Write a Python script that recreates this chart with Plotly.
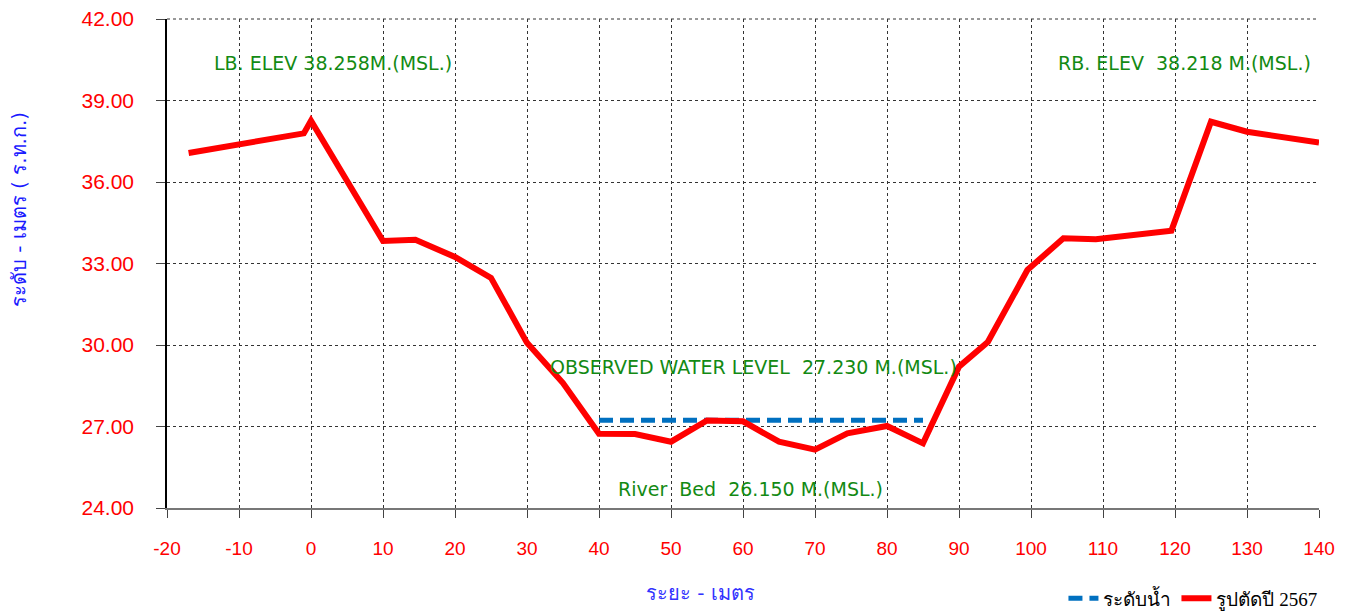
import plotly.graph_objects as go

# Cross-section survey (distance in m, elevation in m MSL)
distance = [-17, -1, 0, 10, 14.5, 20, 25, 30, 35, 40, 45, 50, 55, 60, 65, 70,
            74.5, 80, 85, 90, 94, 99.5, 104.5, 109, 119.5, 125, 130, 140]
elevation = [37.07, 37.79, 38.258, 33.83, 33.87, 33.24, 32.47, 30.08, 28.6, 26.73,
             26.72, 26.44, 27.22, 27.19, 26.44, 26.15, 26.75, 27.02, 26.38, 29.2,
             30.11, 32.76, 33.93, 33.89, 34.21, 38.218, 37.85, 37.45]

water_x = [40, 85]
water_y = [27.23, 27.23]

x_ticks = list(range(-20, 141, 10))
x_tick_text = [str(v) for v in x_ticks]
y_ticks = [24, 27, 30, 33, 36, 39, 42]
y_tick_text = ["%.2f" % v for v in y_ticks]

NB = "\u00a0"
label_lb = "LB. ELEV 38.258M.(MSL.)"
label_rb = "RB. ELEV" + NB + NB + "38.218 M.(MSL.)"
label_wl = "OBSERVED WATER LEVEL" + NB + NB + "27.230 M.(MSL.)"
label_bed = "River" + NB + NB + "Bed" + NB + NB + "26.150 M.(MSL.)"

fig = go.Figure()
fig.add_trace(go.Scatter(
    x=water_x, y=water_y, mode="lines", name="ระดับน้ำ",
    line=dict(color="#0070C0", width=5, dash="14px,7px")))
fig.add_trace(go.Scatter(
    x=distance, y=elevation, mode="lines", name="รูปตัดปี 2567",
    line=dict(color="#FF0000", width=6)))

green = "#138a13"
ann_font = dict(family="DejaVu Sans", size=19, color=green)
fig.add_annotation(x=3.0, y=40.38, text=label_lb, showarrow=False, font=ann_font)
fig.add_annotation(x=121.3, y=40.38, text=label_rb, showarrow=False, font=ann_font)
fig.add_annotation(x=61.5, y=29.2, text=label_wl, showarrow=False, font=ann_font)
fig.add_annotation(x=61.0, y=24.7, text=label_bed, showarrow=False, font=ann_font)

# axis titles
fig.add_annotation(xref="paper", yref="paper", x=-0.1285, y=0.611,
                   xanchor="center", yanchor="middle",
                   text="ระดับ - เมตร ( ร.ท.ก.)", textangle=-90, showarrow=False,
                   font=dict(family="Tahoma, DejaVu Sans", size=20, color="#1a1aff"))
fig.add_annotation(xref="paper", yref="paper", x=0.4627, y=-0.174,
                   xanchor="center", yanchor="middle",
                   text="ระยะ - เมตร", showarrow=False,
                   font=dict(family="Tahoma, DejaVu Sans", size=20, color="#3333ff"))

# top gridline (at the upper edge of the plot) and outer border on the right
fig.add_shape(type="line", xref="paper", yref="paper", x0=0, x1=1, y0=1, y1=1,
              line=dict(color="#333", width=1, dash="dot"))
fig.add_shape(type="line", xref="paper", yref="paper", x0=1.0304, x1=1.0304,
              y0=-0.23, y1=1.06, line=dict(color="#999999", width=2))

fig.update_xaxes(range=[-20, 140], tickvals=x_ticks, ticktext=x_tick_text,
                 ticks="outside", ticklen=8, ticklabelstandoff=14,
                 ticklabeloverflow="allow",
                 tickcolor="#444", showgrid=True, gridcolor="#333", griddash="dot",
                 gridwidth=1, showline=True, linecolor="#777", linewidth=2,
                 tickfont=dict(family="Liberation Sans, Arial", size=19, color="#FF0000"),
                 zeroline=False)
fig.update_yaxes(range=[24, 42], tickvals=y_ticks, ticktext=y_tick_text, ticks="outside",
                 ticklen=9, ticklabelstandoff=18, ticklabeloverflow="allow",
                 tickcolor="#444", showgrid=True,
                 gridcolor="#333", griddash="dot", gridwidth=1, showline=True,
                 linecolor="#000", linewidth=1.5,
                 tickfont=dict(family="Liberation Sans, Arial", size=21, color="#FF0000"),
                 zeroline=False)

# page body has an 8px margin, so the figure is sized/offset to compensate
fig.update_layout(
    width=1348, height=604,
    margin=dict(l=159, r=37, t=11, b=104, autoexpand=False),
    plot_bgcolor="white", paper_bgcolor="white",
    showlegend=True,
    legend=dict(orientation="h", x=1.003, xanchor="right", y=-0.185, yanchor="middle",
                font=dict(family="Liberation Serif, Times New Roman", size=19, color="#000"),
                bgcolor="rgba(0,0,0,0)", itemwidth=30, tracegroupgap=0),
)

fig.write_html("out.html")
